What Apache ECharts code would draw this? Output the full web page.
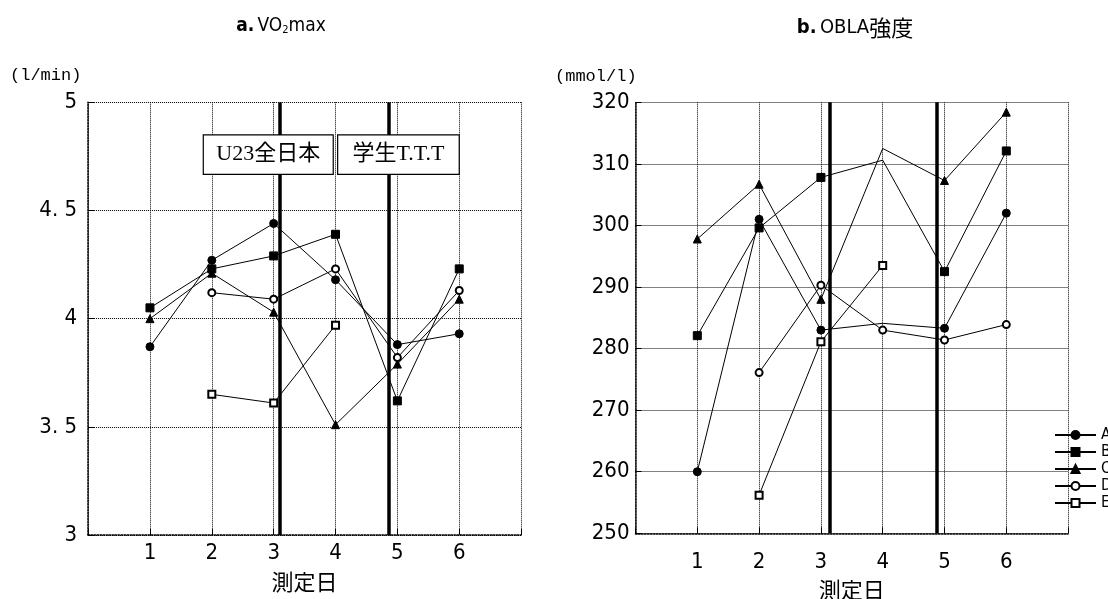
<!DOCTYPE html>
<html><head><meta charset="utf-8">
<script src="https://cdn.jsdelivr.net/npm/echarts@6/dist/echarts.min.js"></script>
<style>html,body{margin:0;padding:0;background:#fff}#c{width:1108px;height:599px}</style>
</head><body><div id="c"></div>
<script>
// ---------- data ----------
const days = [1, 2, 3, 4, 5, 6];
const names = ['A', 'B', 'C', 'D', 'E'];
const vo2A = [3.87, 4.27, 4.44, 4.18, 3.88, 3.93];
const vo2B = [4.05, 4.23, 4.29, 4.39, 3.62, 4.23];
const vo2C = [4.00, 4.21, 4.03, 3.51, 3.79, 4.09];
const vo2D = [null, 4.12, 4.09, 4.23, 3.82, 4.13];
const vo2E = [null, 3.65, 3.61, 3.97, null, null];
const oblaA = [260.0, 301.0, 283.0, 284.1, 283.3, 302.0];
const oblaB = [282.1, 299.6, 307.8, 310.6, 292.5, 312.1];
const oblaC = [297.8, 306.7, 288.0, 312.5, 307.3, 318.4];
const oblaD = [null, 276.1, 290.3, 283.0, 281.4, 283.9];
const oblaE = [null, 256.2, 281.1, 293.5, null, null];
const oblaNoMarkerDays = { A: [4], B: [4], C: [4] };
const vo2Ticks = ['3', '3. 5', '4', '4. 5', '5'];
const oblaTicks = ['250', '260', '270', '280', '290', '300', '310', '320'];
const xTickLabels = ['', '1', '2', '3', '4', '5', '6', ''];
const eventNames = ['U23全日本', '学生T.T.T'];
const eventDaysVO2 = [3.1, 4.86];
const eventDaysOBLA = [3.14, 4.87];

// ---------- styling ----------
const SANS = "'DejaVu Sans Condensed','Liberation Sans Narrow','DejaVu Sans','Noto Sans CJK JP',sans-serif";
const CJK = "'Noto Sans CJK JP',sans-serif";
const MONO = "'Liberation Mono','DejaVu Sans Mono',monospace";
const symbols = { A: 'circle', B: 'rect', C: 'triangle', D: 'emptyCircle', E: 'emptyRect' };
const symSizes = { A: 8, B: 8, C: 8, D: 7, E: 7 };
// label boxes of the left chart (layout in axis units)
const boxes = [
  { x0: 1.862, x1: 3.963, y0: 4.667, y1: 4.849 },
  { x0: 4.034, x1: 6.0, y0: 4.667, y1: 4.849 }
];

function toData(vals, hiddenDays) {
  const out = [];
  vals.forEach((v, i) => {
    if (v == null) return;
    if (hiddenDays && hiddenDays.includes(days[i])) out.push({ value: [days[i], v], symbol: 'none' });
    else out.push([days[i], v]);
  });
  return out;
}

function lineSeries(name, vals, gi, hidden) {
  return {
    type: 'line', name: name, xAxisIndex: gi, yAxisIndex: gi,
    data: toData(vals, hidden),
    symbol: symbols[name], symbolSize: symSizes[name],
    lineStyle: { color: '#000', width: 1 },
    itemStyle: { color: '#000', borderColor: '#000', borderWidth: 1 },
    emphasis: { disabled: true }, z: 4, animation: false
  };
}

const dotted = { type: 'dotted', color: '#000', width: 1 };

function xAxis(gi, margin, gap) {
  return {
    type: 'value', gridIndex: gi, min: 0, max: 7, interval: 1,
    axisLine: { show: true, lineStyle: { type: 'dotted', color: '#000', width: 1.5 } },
    axisTick: { show: true, inside: true, length: 6, lineStyle: { color: '#000', width: 1 } },
    splitLine: { show: true, lineStyle: dotted },
    axisLabel: { margin: margin, color: '#000', fontSize: 22, fontFamily: SANS,
      formatter: (v) => xTickLabels[Math.round(v)] },
    name: '測定日', nameLocation: 'middle', nameGap: gap,
    nameTextStyle: { color: '#000', fontSize: 22, fontFamily: CJK }
  };
}

function yAxis(gi, min, max, interval, labels, margin) {
  return {
    type: 'value', gridIndex: gi, min: min, max: max, interval: interval,
    axisLine: { show: true, lineStyle: { type: 'dotted', color: '#000', width: 1.5 } },
    axisTick: { show: true, inside: true, length: 6, lineStyle: { color: '#000', width: 1 } },
    splitLine: { show: true, lineStyle: dotted },
    axisLabel: { margin: margin, color: '#000', fontSize: 22, fontFamily: SANS,
      formatter: (v, i) => labels[Math.round((v - min) / interval)] }
  };
}

// event line segments, interrupted where a label box covers them
function eventSegments(xs, ymin, ymax, boxList) {
  const segs = [];
  xs.forEach(x => {
    const cuts = boxList.filter(b => x >= b.x0 && x <= b.x1).sort((a, b) => a.y0 - b.y0);
    let y = ymin;
    cuts.forEach(b => { segs.push([{ coord: [x, y] }, { coord: [x, b.y0] }]); y = b.y1; });
    segs.push([{ coord: [x, y] }, { coord: [x, ymax] }]);
  });
  return segs;
}

const series = [];
series.push({
  type: 'line', xAxisIndex: 0, yAxisIndex: 0, data: [], z: 2, silent: true,
  markLine: { z: 2, symbol: 'none', silent: true, animation: false, label: { show: false },
    lineStyle: { color: '#000', width: 3.5, type: 'solid' },
    data: eventSegments(eventDaysVO2, 3, 5, boxes) }
});
series.push({
  type: 'line', xAxisIndex: 1, yAxisIndex: 1, data: [], z: 2, silent: true,
  markLine: { z: 2, symbol: 'none', silent: true, animation: false, label: { show: false },
    lineStyle: { color: '#000', width: 3.5, type: 'solid' },
    data: eventSegments(eventDaysOBLA, 250, 320, []) }
});
series.push({
  type: 'line', xAxisIndex: 0, yAxisIndex: 0, data: [], z: 3, silent: true,
  markArea: {
    z: 6, silent: true, animation: false,
    itemStyle: { color: '#fff', borderColor: '#000', borderWidth: 1.2, opacity: 1 },
    label: { show: true, position: 'inside', color: '#000', fontSize: 22,
      fontFamily: "'Liberation Serif','Noto Sans CJK JP',serif" },
    data: boxes.map((b, i) => [{ name: eventNames[i], xAxis: b.x0, yAxis: b.y1 }, { xAxis: b.x1, yAxis: b.y0 }])
  }
});

const vo2 = { A: vo2A, B: vo2B, C: vo2C, D: vo2D, E: vo2E };
const obla = { A: oblaA, B: oblaB, C: oblaC, D: oblaD, E: oblaE };
names.forEach(n => series.push(lineSeries(n, vo2[n], 0)));
names.forEach(n => series.push(lineSeries(n, obla[n], 1, oblaNoMarkerDays[n])));

const option = {
  animation: false,
  backgroundColor: '#fff',
  grid: [
    { left: 88.1, top: 102.3, width: 433, height: 432.7, containLabel: false, outerBoundsMode: 'none' },
    { left: 635.5, top: 102.3, width: 432.6, height: 431, containLabel: false, outerBoundsMode: 'none' }
  ],
  xAxis: [xAxis(0, 7, 36), xAxis(1, 18, 44)],
  yAxis: [yAxis(0, 3, 5, 0.5, vo2Ticks, 11), yAxis(1, 250, 320, 10, oblaTicks, 6)],
  legend: {
    data: names, orient: 'vertical', left: 1054, top: 427,
    itemWidth: 41, itemHeight: 10, itemGap: 1, padding: 0,
    textStyle: { color: '#000', fontSize: 16, fontFamily: SANS },
    selectedMode: false
  },
  graphic: [
    { type: 'text', x: 281, y: 26, style: {
        text: '{b|a.} {n|VO}{s|2}{n|max}', align: 'center', verticalAlign: 'middle',
        rich: {
          b: { fontSize: 19, fontWeight: 'bold', fontFamily: SANS, fill: '#000' },
          n: { fontSize: 19, fontFamily: SANS, fill: '#000' },
          s: { fontSize: 11, fontFamily: SANS, fill: '#000', verticalAlign: 'bottom', padding: [6, 0, 0, 0] }
        } } },
    { type: 'text', x: 855, y: 28, style: {
        text: '{b|b.} {n|OBLA}{c|強度}', align: 'center', verticalAlign: 'middle',
        rich: {
          b: { fontSize: 20, fontWeight: 'bold', fontFamily: SANS, fill: '#000' },
          n: { fontSize: 20, fontFamily: SANS, fill: '#000' },
          c: { fontSize: 22, fontFamily: CJK, fill: '#000' }
        } } },
    { type: 'text', x: 10, y: 75, style: { text: '(l/min)', align: 'left', verticalAlign: 'middle',
        fontSize: 17, fontFamily: MONO, fill: '#000' } },
    { type: 'text', x: 555, y: 76, style: { text: '(mmol/l)', align: 'left', verticalAlign: 'middle',
        fontSize: 17, fontFamily: MONO, fill: '#000' } }
  ],
  series: series
};

const chart = echarts.init(document.getElementById('c'), null, { renderer: 'canvas' });
chart.setOption(option);
</script>
</body></html>
